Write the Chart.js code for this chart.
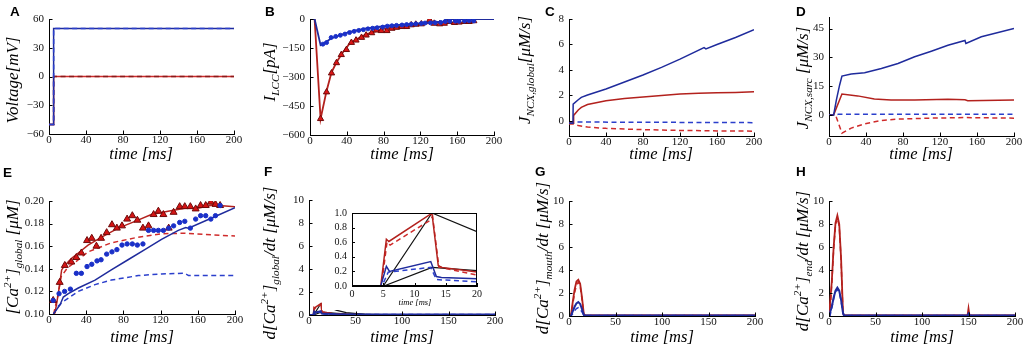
<!DOCTYPE html>
<html><head><meta charset="utf-8">
<script src="https://cdn.jsdelivr.net/npm/chart.js@4.4.0/dist/chart.umd.min.js"></script>
<style>
html,body{margin:0;padding:0;background:#fff;}
#wrap{position:relative;width:1028px;height:352px;overflow:hidden;background:#fff;}
canvas{position:absolute;}
</style></head><body><div id="wrap"></div>
<script>
// ---------- DATA (time in ms, [t, value]) ----------
// A: voltage
const aBlue=[[0,-50],[5,-50],[5,50],[200,50]];
const aRed=[[0,-50],[5,-50],[5,0],[200,0]];
// B: I_LCC
const bBlueLine=[[0,0],[5,0],[11.5,-135],[15,-125],[23,-101],[30,-88],[43,-66],[61,-49],[85,-35],[104,-28],[133,-17],[146,-13],[148,0],[200,0]];
const bRedLine=[[0,0],[5,0],[11.5,-516],[18,-372],[23.4,-276],[28.8,-224],[36,-171],[43,-128],[52,-101],[61,-79],[79,-52],[97,-38],[115,-28],[133,-20],[146,-15],[148,0],[200,0]];
const bBlueDots=[[14,-130],[18,-122],[23,-96],[28,-90],[33,-84],[38,-78],[43,-70],[48,-64],[53,-59],[58,-55],[63,-51],[68,-48],[73,-45],[79,-42],[84,-37],[89,-35],[94,-33],[100,-31],[105,-29],[110,-27],[115,-25],[121,-23],[125,-21],[131,-20],[136,-19],[142,-18],[147,-13],[152,-12],[158,-11],[162,-12],[168,-10],[173,-9],[178,-10]];
const bRedTri=[[11.5,-516],[18,-378],[23.4,-280],[28.8,-227],[34,-185],[39.6,-159],[45,-122],[50,-110],[56,-96],[61,-84],[67,-72],[72,-58],[77.5,-61],[83.6,-61],[89,-49],[94,-44],[100,-40],[105,-40],[110,-31],[115,-28],[121,-26],[130,-5],[135,-23],[141,-26],[146,-23],[151,-14],[157,-19],[162,-17],[168,-14],[173,-14],[178,-10]];
// C: J_NCX,global
const cBlue=[[0,-0.2],[4.3,-0.2],[4.5,1.3],[10,1.65],[13.3,1.84],[20,2.02],[40,2.5],[60,3.05],[80,3.6],[100,4.2],[120,4.85],[146,5.75],[148,5.65],[160,6.0],[180,6.55],[200,7.15]];
const cRed=[[0,-0.2],[4.5,-0.2],[5,0.42],[10,0.85],[13.3,1.05],[20,1.28],[40,1.58],[60,1.75],[80,1.87],[100,1.98],[120,2.1],[140,2.17],[160,2.2],[180,2.23],[200,2.28]];
const cBlueDash=[[0,-0.1],[5,-0.1],[200,-0.15]];
const cRedDash=[[0,-0.25],[5,-0.25],[10,-0.38],[20,-0.5],[40,-0.6],[80,-0.7],[120,-0.76],[160,-0.8],[200,-0.82]];
// D: J_NCX,sarc
const dBlue=[[0,0],[5,0],[8,7.8],[11.5,15.6],[14,20.2],[24,21.3],[38.5,22],[56.6,24.2],[74.6,26.8],[92.6,30.3],[110.6,33.2],[128.6,36.3],[147,38.8],[148,37.2],[164.7,40.7],[200,45]];
const dRed=[[0,0],[5,0],[14,10.9],[31,9.9],[49,8.3],[67,7.8],[92.6,7.8],[128.6,8.1],[147,7.9],[150,7.4],[200,7.8]];
const dBlueDash=[[0,0],[5,0],[10,0.3],[200,0.3]];
const dRedDash=[[0,0],[7,0],[14,-9.5],[24,-6.9],[38.5,-4.7],[56.6,-2.9],[74.6,-2.2],[110,-1.7],[146,-1.4],[200,-1.7]];
// E: [Ca2+]global
const eRed=[[5,0.10],[6.5,0.101],[10,0.118],[13.6,0.139],[17,0.143],[24,0.149],[31.5,0.154],[42,0.161],[56.6,0.168],[74.5,0.176],[92.5,0.182],[110,0.188],[128,0.191],[146,0.1935],[160,0.1935],[176,0.1965],[200,0.195]];
const eBlue=[[4.7,0.10],[11.8,0.108],[15.4,0.115],[20.8,0.118],[31.5,0.123],[49.5,0.130],[67,0.139],[85,0.148],[103,0.157],[121,0.166],[139,0.174],[147,0.1765],[150,0.176],[175,0.185],[200,0.194]];
const eRedDash=[[5,0.10],[10,0.118],[13,0.133],[20,0.141],[30,0.147],[42,0.155],[67,0.163],[96,0.168],[121,0.171],[146,0.1715],[175,0.170],[200,0.169]];
const eBlueDash=[[5,0.10],[10,0.107],[15.4,0.111],[31.5,0.120],[49.5,0.126],[67,0.130],[96,0.134],[121,0.1355],[146,0.136],[150,0.134],[175,0.134],[200,0.134]];
const eRedTri=[[4.5,0.112],[11.5,0.128],[17,0.143],[24,0.146],[29.4,0.150],[34.8,0.154],[40.9,0.165],[46,0.167],[51,0.160],[56,0.167],[62,0.172],[67.7,0.179],[73,0.176],[78.5,0.178],[84,0.184],[89.6,0.187],[95,0.183],[101,0.176],[107,0.178],[112.5,0.188],[117.6,0.191],[123,0.188],[128.7,0.176],[134,0.190],[140.5,0.195],[146,0.195],[152,0.195],[157.7,0.193],[163,0.196],[168.5,0.196],[174,0.199],[179,0.197],[184,0.196]];
const eBlueDots=[[4.5,0.112],[10.8,0.118],[16.8,0.120],[23,0.122],[29.4,0.136],[34.8,0.136],[40.9,0.142],[46,0.144],[51.6,0.147],[56,0.148],[62,0.153],[67.7,0.155],[73,0.157],[78.5,0.161],[84,0.162],[89.6,0.162],[95,0.161],[101,0.162],[107,0.174],[112.5,0.174],[117.6,0.174],[123,0.174],[128.7,0.176],[134,0.178],[140.5,0.181],[146,0.182],[152,0.176],[157.7,0.184],[163,0.187],[168.5,0.187],[174,0.184],[179,0.187],[184,0.196]];
// F: d[Ca2+]global/dt (main + inset share the same series)
const fRed=[[0,0],[4.6,0],[5.5,0.64],[5.9,0.61],[12.5,0.98],[12.8,0.99],[13.8,0.28],[14.4,0.255],[20,0.19],[25,0.13],[30,0.09],[40,0.05],[60,0.03],[100,0.02],[200,0.02]];
const fRedDash=[[0,0],[4.7,0],[5.6,0.6],[6.1,0.56],[12.5,0.9],[12.9,0.95],[13.9,0.26],[14.5,0.25],[20,0.15],[25,0.1],[30,0.07],[40,0.04],[60,0.03],[100,0.02],[200,0.02]];
const fBlue=[[0,0],[4.6,0],[5.5,0.27],[6.0,0.2],[12.6,0.335],[13.5,0.13],[14.3,0.115],[20,0.1],[25,0.08],[30,0.065],[40,0.05],[200,0.05]];
const fBlueDash=[[0,0],[4.8,0],[5.8,0.19],[12.6,0.255],[13.5,0.088],[20,0.057],[30,0.05],[200,0.04]];
const fBlack1=[[0,0],[5,0],[12.8,1.0],[20,0.745],[25,0.55],[30,0.4],[40,0.2],[60,0.06],[100,0.02],[200,0.01]];
const fBlack2=[[0,0],[5.1,0],[12.8,0.254],[20,0.21],[30,0.15],[40,0.1],[60,0.05],[100,0.02],[200,0.01]];
// G: d[Ca2+]mouth/dt
const gRed=[[0,0],[2,0],[4,1.2],[6,2.3],[8,3.0],[10,3.15],[12,2.8],[14,1.6],[16,0.1],[18,0.05],[200,0.05]];
const gRedDash=[[0,0],[2,0],[4,1.0],[6,2.0],[8,2.7],[10,2.95],[12,2.6],[14,1.4],[16,0.1],[18,0.05],[200,0.05]];
const gBlue=[[0,0],[2,0],[4,0.4],[6,0.8],[8,1.1],[10,1.22],[12,1.05],[14,0.6],[16,0.08],[18,0.05],[200,0.05]];
const gBlueDash=[[0,0],[2,0],[4,0.2],[6,0.45],[8,0.65],[10,0.72],[12,0.6],[14,0.35],[16,0.05],[200,0.05]];
// H: d[Ca2+]end/dt
const hRed=[[0,0],[1,0],[3,3.0],[5,6.0],[7,8.1],[9,8.75],[11,8.0],[13,5.0],[15,0.3],[16,0.05],[149,0.05],[150,0.64],[151,0.05],[200,0.05]];
const hRedDash=[[0,0],[1,0],[3,2.8],[5,5.8],[7,7.9],[9,8.5],[11,7.8],[13,4.8],[15,0.3],[16,0.05],[200,0.05]];
const hBlue=[[0,0],[1,0],[3,0.8],[5,1.6],[7,2.2],[9,2.46],[11,2.2],[13,1.4],[15,0.3],[16,0.05],[149,0.05],[150,0.2],[151,0.05],[200,0.05]];
const hBlueDash=[[0,0],[1,0],[3,0.7],[5,1.5],[7,2.1],[9,2.3],[11,2.05],[13,1.3],[15,0.25],[16,0.05],[200,0.05]];
// tick labels
const tA={x:[0,40,80,120,160,200],y:[-60,-30,0,30,60]};
const tB={x:[0,40,80,120,160,200],y:[-600,-450,-300,-150,0]};
const tC={x:[0,40,80,120,160,200],y:[0,2,4,6,8]};
const tD={x:[0,40,80,120,160,200],y:[0,15,30,45]};
const tE={x:[0,40,80,120,160,200],y:[0.10,0.12,0.14,0.16,0.18,0.20]};
const tFGH={x:[0,50,100,150,200],y:[0,2,4,6,8,10]};
const tInset={x:[0,5,10,15,20],y:[0,0.2,0.4,0.6,0.8,1.0]};

// ---------- STYLE ----------
const RED='#b3211d', RED_D='#cf2b2b', BLUE='#1f2b9c', BLUE_D='#2b3fcc', BLK='#111';
const SERIF='"Liberation Serif", "DejaVu Serif", serif';
const ln=(pts,color,dash,w)=>({data:pts.map(p=>({x:p[0],y:p[1]})),borderColor:color,borderWidth:w||1.5,borderDash:dash?[5,3.5]:[],pointRadius:0,fill:false,tension:0});
const mk=(pts,style,fill,edge,r)=>({data:pts.map(p=>({x:p[0],y:p[1]})),showLine:false,pointStyle:style,pointRadius:r,pointBackgroundColor:fill,pointBorderColor:edge,pointBorderWidth:1,borderColor:edge,backgroundColor:fill});
const fmt=d=>v=>(v<0?'\u2212':'')+Math.abs(v).toFixed(d);

function drawRich(ctx,segs,cx,cy,size){
  const sub=size*0.66;
  const items=segs.map(([t,k])=>{const fs=k==='n'?size:sub;ctx.font='italic '+fs+'px '+SERIF;return {t,k,fs,w:ctx.measureText(t).width};});
  const total=items.reduce((a,b)=>a+b.w,0);
  ctx.save();ctx.translate(cx,cy);ctx.rotate(-Math.PI/2);
  ctx.textAlign='left';ctx.textBaseline='alphabetic';ctx.fillStyle='#000';
  let x=-total/2;const base=size*0.3;
  items.forEach(it=>{ctx.font='italic '+it.fs+'px '+SERIF;let dy=base;if(it.k==='sub')dy+=size*0.25;if(it.k==='sup')dy-=size*0.4;ctx.fillText(it.t,x,dy);x+=it.w;});
  ctx.restore();
}

const panelText={id:'panelText',
  beforeDraw(chart){const s=chart.canvas._spec;if(s.bg){const c=chart.ctx;c.save();c.fillStyle='#fff';c.fillRect(0,0,chart.width,chart.height);c.restore();}},
  afterDraw(chart){
    const s=chart.canvas._spec,ctx=chart.ctx,ca=chart.chartArea,ox=s.box[0],oy=s.box[1];
    ctx.save();ctx.strokeStyle='#000';ctx.lineWidth=1;
    const xs=chart.scales.x,ys=chart.scales.y,tl=s.tick||3.5;
    xs.ticks.forEach(t=>{const p=Math.round(xs.getPixelForValue(t.value))+0.5;ctx.beginPath();ctx.moveTo(p,ca.bottom);ctx.lineTo(p,ca.bottom-tl);ctx.stroke();});
    ys.ticks.forEach(t=>{const p=Math.round(ys.getPixelForValue(t.value))+0.5;ctx.beginPath();ctx.moveTo(ca.left,p);ctx.lineTo(ca.left+tl,p);ctx.stroke();});
    if(s.frame){ctx.strokeRect(Math.round(ca.left)+0.5,Math.round(ca.top)+0.5,Math.round(ca.width)-1,Math.round(ca.height)-1);}
    if(s.letter){ctx.font='bold 13.5px "Liberation Sans", Arial, sans-serif';ctx.fillStyle='#000';ctx.textAlign='left';ctx.textBaseline='alphabetic';ctx.fillText(s.letter[0],s.letter[1]-ox,s.letter[2]-oy);}
    if(s.xt){ctx.font='italic '+s.xt[3]+'px '+SERIF;ctx.fillStyle='#000';ctx.textAlign='center';ctx.textBaseline='middle';ctx.fillText(s.xt[0],s.xt[1]-ox,s.xt[2]-oy);}
    if(s.yt){drawRich(ctx,s.yt[0],s.yt[1]-ox,s.yt[2]-oy,s.yt[3]);}
    ctx.restore();
  }};
Chart.register(panelText);

function makeChart(s){
  const cv=document.createElement('canvas');
  const [cx,cy,cw,ch]=s.box,[l,t,r,b]=s.area;
  cv.width=cw;cv.height=ch;cv.style.left=cx+'px';cv.style.top=cy+'px';cv.style.width=cw+'px';cv.style.height=ch+'px';
  if(s.z)cv.style.zIndex=s.z;
  cv._spec=s;document.getElementById('wrap').appendChild(cv);
  const L=l-cx,T=t-cy,R=cx+cw-r,B=cy+ch-b,fs=s.fs||11;
  const axis=(ticks,min,max,dec,isX)=>({type:'linear',min,max,bounds:'data',
    afterFit:sc=>{if(isX)sc.height=B;else sc.width=L;},
    afterBuildTicks:sc=>{sc.ticks=ticks.map(v=>({value:v}));},
    grid:{display:true,drawOnChartArea:false,drawTicks:false},
    border:{display:true,color:'#000',width:1},
    ticks:{autoSkip:false,maxRotation:0,padding:isX?(s.xpad!==undefined?s.xpad:0):5,color:'#111',font:{family:SERIF,size:fs},callback:fmt(dec)}});
  new Chart(cv,{type:'line',data:{datasets:s.datasets},options:{responsive:false,animation:false,events:[],
    layout:{padding:{left:0,top:T,right:R,bottom:0}},
    plugins:{legend:{display:false},tooltip:{enabled:false}},
    scales:{x:axis(s.ticks.x,s.xr[0],s.xr[1],0,true),y:axis(s.ticks.y,s.yr[0],s.yr[1],s.ydec||0,false)}}});
}

const dGlobal=[['d[Ca','n'],['2+','sup'],[']','n'],['global','sub'],['/dt [\u03bcM/s]','n']];
const specs=[
 {box:[0,0,257,176],area:[49,19,234,134],xr:[0,200],yr:[-60,60],ticks:tA,letter:['A',10,16],xt:['time [ms]',141,155,16.5],
  yt:[[['Voltage[mV]','n']],13,80,17],
  datasets:[ln(aBlue,BLUE_D,true),ln(aBlue,BLUE),ln(aRed,'#8a1a1a',true),ln(aRed,RED_D)]},
 {box:[257,0,257,176],area:[310,19,494,135],xr:[0,200],yr:[-600,0],ticks:tB,letter:['B',265,16],xt:['time [ms]',402,155,16.5],
  yt:[[['I','n'],['LCC','sub'],['[pA]','n']],270,72,17],
  datasets:[mk(bBlueDots,'circle','#1a30c8','#1a30c8',2),ln(bBlueLine,BLUE,false,1.8),mk(bRedTri,'triangle','#dd1515','#6e0a0a',3.6),ln(bRedLine,RED,false,1.8)]},
 {box:[514,0,257,176],area:[569,19,754,136],xr:[0,200],yr:[-1.2,8],ticks:tC,letter:['C',545,16],xt:['time [ms]',661,155,16.5],
  yt:[[['J','n'],['NCX,global','sub'],['[\u03bcM/s]','n']],525,70,17],
  datasets:[ln(cBlue,BLUE),ln(cRed,RED),ln(cBlueDash,BLUE_D,true),ln(cRedDash,RED_D,true)]},
 {box:[771,0,257,176],area:[829,17,1014,136],xr:[0,200],yr:[-11,51],ticks:tD,letter:['D',796,16],xt:['time [ms]',921,155,16.5],
  yt:[[['J','n'],['NCX,sarc','sub'],[' [\u03bcM/s]','n']],803,78,17],
  datasets:[ln(dBlue,BLUE),ln(dRed,RED),ln(dBlueDash,BLUE_D,true),ln(dRedDash,RED_D,true)]},
 {box:[0,160,257,192],area:[49,201,235,314],xr:[0,200],yr:[0.10,0.20],ydec:2,ticks:tE,letter:['E',3,177],xt:['time [ms]',142,338,16.5],
  yt:[[['[Ca','n'],['2+','sup'],[']','n'],['global','sub'],[' [\u03bcM]','n']],13,257,17],
  datasets:[mk(eBlueDots,'circle','#1a30c8','#1a30c8',2.2),mk(eRedTri,'triangle','#d41414','#6e0a0a',4),ln(eBlue,BLUE),ln(eRed,RED),ln(eBlueDash,BLUE_D,true),ln(eRedDash,RED_D,true)]},
 {box:[257,160,257,192],area:[309,200,495,315],xr:[0,200],yr:[0,10],ticks:tFGH,letter:['F',264,176],xt:['time [ms]',402,338,16.5],
  yt:[dGlobal,270,263,17],
  datasets:[ln(fBlue,BLUE,false,2),ln(fBlueDash,BLUE_D,true),ln(fRed,RED),ln(fRedDash,RED_D,true),ln(fBlack1,BLK,false,1.2),ln(fBlack2,BLK,false,1.2)]},
 {box:[322,202,166,108],area:[352,210,477,286],xr:[0,20],yr:[0,1],ydec:1,ticks:tInset,fs:10,xpad:2,frame:true,bg:true,z:5,tick:3,xt:['time [ms]',415,303,8.5],
  datasets:[ln(fBlue,BLUE),ln(fBlueDash,BLUE_D,true),ln(fRed,RED),ln(fRedDash,RED_D,true),ln(fBlack1,BLK,false,1.2),ln(fBlack2,BLK,false,1.2)]},
 {box:[514,160,257,192],area:[569,201,755,316],xr:[0,200],yr:[0,10],ticks:tFGH,letter:['G',535,176],xt:['time [ms]',662,338,16.5],
  yt:[[['d[Ca','n'],['2+','sup'],[']','n'],['mouth','sub'],['/dt [\u03bcM/s]','n']],543,258,17],
  datasets:[ln(gBlue,BLUE,false,2),ln(gBlueDash,BLUE_D,true),ln(gRed,RED,false,1.8),ln(gRedDash,RED_D,true)]},
 {box:[771,160,257,192],area:[829,201,1015,316],xr:[0,200],yr:[0,10],ticks:tFGH,letter:['H',796,176],xt:['time [ms]',922,338,16.5],
  yt:[[['d[Ca','n'],['2+','sup'],[']','n'],['end','sub'],['/dt [\u03bcM/s]','n']],803,261,17],
  datasets:[ln(hBlue,BLUE,false,2),ln(hBlueDash,BLUE_D,true),ln(hRed,RED,false,1.8),ln(hRedDash,RED_D,true)]}
];
specs.forEach(makeChart);
</script></body></html>
